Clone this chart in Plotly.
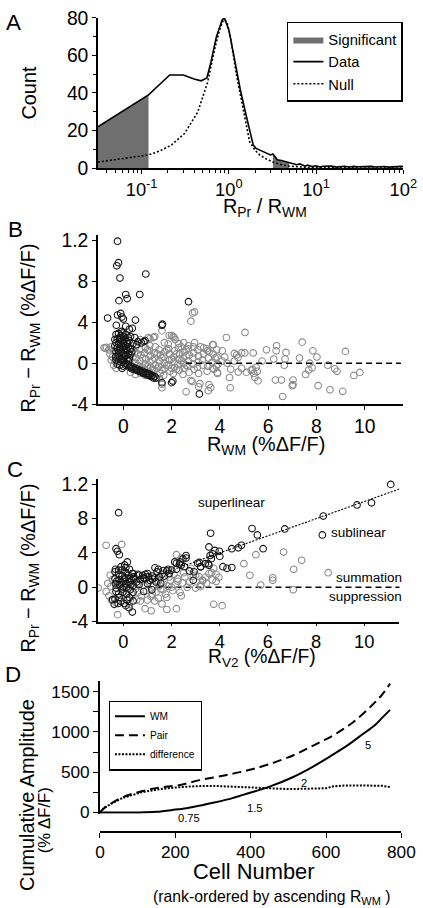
import plotly.graph_objects as go

W, H = 423, 908          # reference pixel frame used for all placement
FW, FH = 433, 918        # figure size (page is shown slightly reduced)
FS = 1.017               # font compensation for that reduction
FONT = "Liberation Sans, Arial, sans-serif"

# ---------------- Panel A: histogram of R_Pr / R_WM ----------------
a_data_x = [0.0316, 0.12, 0.21, 0.30, 0.40, 0.48, 0.56, 0.62, 0.72, 0.84, 0.89, 1.0, 1.13, 1.35, 1.58,
            1.73, 1.9, 2.05, 2.25, 2.5, 2.7, 3.0, 3.2, 3.4, 3.6, 4.0, 4.4, 4.9, 5.5, 6.0, 6.5, 7.0, 7.5,
            8.0, 9.0, 10, 11, 12, 13.5, 15, 17, 19, 21, 24, 27, 30, 34, 38, 43, 48, 54, 60, 68, 76, 85, 95, 100]
a_data_y = [22, 39, 49.6, 49.6, 47.5, 46.5, 48, 56, 70, 79, 80, 73.6, 61, 42, 28,
            21, 12.3, 10.5, 9.6, 8.5, 7.9, 7.0, 7.5, 6.0, 4.4, 4.0, 3.5, 3.2, 2.5, 1.8, 2.2, 1.5, 1.0,
            1.6, 0.8, 1.2, 0.6, 1.0, 0.9, 1.1, 0.5, 0.8, 1.0, 0.6, 0.9, 0.7, 0.8, 0.5, 0.9, 0.6, 0.7, 0.8, 0.5, 0.7, 0.6, 0.9, 0.8]
a_null_x = [0.0316, 0.06, 0.12, 0.16, 0.22, 0.31, 0.44, 0.57, 0.70, 0.80, 0.87, 0.95, 1.04, 1.23, 1.47,
            1.73, 2.0, 2.25, 2.7, 3.2, 4.0, 4.9, 7, 10, 20, 100]
a_null_y = [3.2, 5.0, 7.0, 9.0, 12.3, 18.4, 29.8, 45.6, 65, 75, 79, 78, 70, 49, 29.8,
            14, 9.5, 7, 4.8, 3.2, 1.8, 1.0, 0.5, 0.3, 0.1, 0]
a_sig_ranges = [(0.0316, 0.12), (3.2, 4.9)]
a_xtick_vals = [0.1, 1, 10, 100]
a_xtick_text = ["10<sup>-1</sup>", "10<sup>0</sup>", "10<sup>1</sup>", "10<sup>2</sup>"]

# ---------------- Panel B: R_Pr - R_WM vs R_WM ----------------
b_black = [
    (-0.24, 11.9), (-0.2, 9.8), (-0.27, 9.5), (-0.14, 8.3), (0.93, 8.7), (0.1, 6.7), (0.16, 6.3), (-0.18, 6.1),
    (0.68, 6.7), (2.7, 6.0), (-0.65, 4.4), (-0.24, 4.7), (-0.11, 4.85), (-0.06, 4.5), (0.0, 4.3), (0.5, 4.2),
    (1.6, 3.7), (1.62, 3.8), (-0.29, 3.7), (0.1, 3.6), (0.37, 3.4), (0.25, 3.3), (-0.07, 3.1), (0.47, 2.5),
    (0.6, 2.1), (0.75, 2.0), (0.85, 2.1), (0.9, 2.2), (0.55, 1.8), (0.4, 1.9),
    (-0.3, 2.8), (-0.2, 2.9), (-0.1, 2.7), (0.0, 2.6), (0.1, 2.8), (0.2, 2.5), (-0.25, 2.4), (-0.15, 2.3),
    (-0.05, 2.2), (0.05, 2.3), (0.15, 2.1), (0.25, 2.2), (-0.3, 2.0), (-0.2, 1.9), (-0.1, 1.8), (0.0, 1.9),
    (0.1, 1.7), (0.2, 1.6), (-0.25, 1.5), (-0.15, 1.4), (-0.05, 1.5), (0.05, 1.3), (0.15, 1.2), (0.3, 1.4),
    (-0.3, 1.1), (-0.2, 1.0), (-0.1, 1.1), (0.0, 0.9), (0.1, 0.8), (0.2, 0.9), (-0.25, 0.7), (-0.15, 0.6),
    (-0.05, 0.5), (0.05, 0.6), (0.15, 0.4), (0.25, 0.5), (-0.3, 0.3), (-0.2, 0.2), (-0.1, 0.1), (0.0, 0.2),
    (0.1, 0.0), (-0.25, -0.1), (-0.15, -0.2), (0.0, -0.3), (0.1, -0.2), (-0.05, -0.5),
    (-0.35, 1.7), (-0.32, 0.6), (-0.12, 2.5), (0.02, 1.6), (0.18, 1.9), (0.28, 0.8), (-0.22, 1.25),
    (-0.08, 0.35), (0.12, 1.45), (0.22, 0.2), (-0.35, 2.3), (0.3, 2.6), (0.35, 1.1), (-0.02, 2.95),
    (0.2, -0.2), (0.3, -0.3), (0.4, -0.4), (0.5, -0.5), (0.6, -0.6), (0.7, -0.7), (0.8, -0.8), (0.9, -0.9),
    (1.0, -1.0), (1.1, -1.1), (1.2, -1.2), (1.3, -1.3), (1.35, -1.45), (1.25, -1.45),
    (0.25, -0.4), (0.35, -0.55), (0.45, -0.6), (0.55, -0.7), (0.65, -0.8), (0.75, -0.9), (0.85, -1.0),
    (0.95, -1.1), (1.05, -1.2), (1.15, -1.3), (1.6, -1.9), (2.0, -1.9), (2.05, -1.75), (3.15, -3.0),
]
b_grey = [
    (-0.8, 1.5), (-0.75, 1.45), (-0.7, 1.55), (-0.6, 1.3), (-0.5, 1.6), (-0.45, 0.6), (-0.55, 0.9), (-0.4, 1.2),
    (-0.35, 0.2), (-0.4, -0.2), (-0.3, -0.5), (-0.5, 0.3),
    (0.28, 1.4), (0.33, 0.9), (0.27, 0.3), (0.32, -0.2), (0.3, -0.9),
    (0.52, 1.6), (0.47, 1.1), (0.53, 0.5), (0.48, 0.0), (0.52, -0.5), (0.5, -1.1),
    (0.68, 1.3), (0.73, 0.8), (0.7, 0.2), (0.67, -0.3), (0.72, -1.0), (0.7, 2.3),
    (0.92, 1.5), (0.88, 1.0), (0.93, 0.4), (0.9, -0.1), (0.87, -0.6), (0.92, -1.2),
    (1.08, 1.2), (1.12, 0.7), (1.1, 0.1), (1.13, -0.4), (1.08, -0.9), (1.1, 2.4),
    (1.32, 1.6), (1.28, 1.0), (1.3, 0.5), (1.33, -0.2), (1.27, -0.7), (1.3, 2.6),
    (1.48, 1.3), (1.53, 0.8), (1.5, 0.2), (1.47, -0.3), (1.52, -1.0), (1.5, -1.5),
    (1.72, 1.1), (1.68, 0.6), (1.7, 0.0), (1.73, -0.5), (1.7, 2.0), (1.67, -1.2),
    (1.88, 1.4), (1.92, 0.9), (1.9, 0.3), (1.87, -0.2), (1.93, -0.8), (1.9, 2.7),
    (2.12, 1.2), (2.08, 0.6), (2.1, 0.1), (2.13, -0.4), (2.07, -1.0), (2.1, 2.5),
    (2.28, 1.5), (2.33, 0.9), (2.3, 0.4), (2.27, -0.1), (2.32, -0.7), (2.3, 1.9),
    (2.52, 1.1), (2.48, 0.5), (2.5, 0.0), (2.53, -0.5), (2.47, -1.1), (2.5, 2.0),
    (2.68, 1.4), (2.73, 0.8), (2.7, 0.2), (2.67, -0.3), (2.72, -0.9), (2.7, 1.7),
    (2.92, 1.0), (2.88, 0.5), (2.9, -0.1), (2.93, -0.6), (2.9, 1.6),
    (3.08, 1.3), (3.12, 0.7), (3.1, 0.1), (3.07, -0.4), (3.12, -1.0),
    (3.32, 0.9), (3.28, 0.3), (3.3, -0.2), (3.33, 1.5),
    (3.48, 1.2), (3.52, 0.5), (3.5, -0.3), (3.47, -0.8),
    (3.72, 0.9), (3.68, 0.1), (3.7, -0.5), (3.73, 1.8),
    (3.88, 0.6), (3.92, -0.1), (3.9, -0.9), (3.87, 1.3),
    (0.4, 0.6), (0.6, -0.2), (0.8, 0.5), (1.0, -0.3), (1.2, 0.3), (1.4, -0.5), (1.6, 0.5), (1.8, -0.2),
    (2.0, 0.4), (2.2, -0.6), (2.4, 0.2), (2.6, -0.2), (0.6, 0.9), (1.0, 1.3), (1.4, 0.9), (1.8, 1.3),
    (2.2, 0.9), (2.6, 0.7), (0.8, -0.4), (1.2, -0.6), (1.6, -0.7), (2.0, -0.5),
    (2.87, 4.9), (2.95, 5.0), (2.8, 4.1), (1.6, 3.15), (4.27, 2.5), (5.04, 3.0), (7.41, 2.05), (2.06, 2.6),
    (2.15, 2.3), (9.2, 1.15), (6.35, 1.7), (6.33, 1.2), (6.74, 1.05), (6.7, 0.4), (6.67, -0.2), (5.93, 1.3),
    (6.23, 0.4), (5.75, 0.2), (5.38, 1.0), (5.03, 1.0), (7.85, 1.2), (8.02, 0.6), (7.3, 0.5), (7.72, 0.0),
    (8.47, -0.2), (7.82, -0.45), (7.68, -0.67), (7.55, -1.1), (8.76, -0.55), (8.85, -0.8), (9.55, -1.2),
    (9.8, -0.9), (6.3, -1.65), (6.55, -1.65), (7.03, -1.65), (7.03, -2.1), (7.0, -2.2), (8.07, -2.2),
    (8.56, -2.6), (9.09, -2.75), (6.6, -3.25), (5.58, -1.73), (5.45, -1.4), (5.4, -1.0), (5.35, -0.6),
    (5.55, -0.8), (5.5, -0.4), (4.43, -2.4), (3.55, -2.1), (3.62, -2.4), (3.52, -2.7), (3.17, -2.0),
    (3.12, -2.3), (2.85, -1.8), (2.6, -2.8), (1.6, -2.4), (1.6, -2.05), (2.8, -1.7), (4.4, -1.4),
    (4.45, -0.6), (4.76, -0.87), (5.1, -0.9), (5.3, -0.7), (4.1, 0.2), (4.3, 0.0), (4.6, 0.2), (3.8, 0.5),
    (3.85, -0.3), (3.75, -0.6), (4.6, 0.95), (4.7, 0.8), (4.9, 1.0), (3.7, 1.8), (3.45, 1.4), (3.55, 1.1),
    (3.2, 1.6), (4.1, 1.2), (4.75, 0.55), (1.04, 2.5), (1.25, 2.5), (1.86, 1.86), (2.0, 2.7), (1.1, 1.7),
    (2.4, 1.6), (2.6, 1.3), (2.95, 2.0), (3.9, -1.0), (4.9, -0.5), (4.2, 0.6),
]
b_zero_x = [2.6, 11.5]
b_zero_y = [0, 0]

# ---------------- Panel C: R_Pr - R_WM vs R_V2 ----------------
c_black = [
    (-0.2, 8.7), (-0.31, 4.5), (-0.17, 3.8), (-0.25, 4.2), (0.16, 2.95), (0.05, 2.6), (-0.1, 2.4), (0.1, 2.3),
    (2.6, 3.7), (2.13, 2.95), (2.33, 2.7), (2.53, 2.4), (2.74, 1.9), (3.08, 2.8), (3.21, 2.4), (2.6, 3.4),
    (2.47, 3.3), (2.4, 2.55), (2.93, 1.8), (2.9, 0.8), (2.2, 2.8), (2.35, 2.95), (3.4, 2.75), (3.55, 2.56),
    (1.31, 2.26), (1.45, 2.1), (1.65, 1.95), (1.85, 2.1), (0.37, 1.6), (0.64, 1.4), (0.91, 1.5), (1.04, 1.23),
    (0.43, 1.0), (0.83, 1.1), (1.2, 0.95), (0.84, -0.5), (1.18, -0.3),
    (-0.31, -0.5), (-0.45, -1.45), (-0.38, -2.0), (-0.11, -1.65), (0.03, -1.9), (0.1, -2.15), (0.23, -2.4),
    (0.37, -2.9),
    (-0.35, -1.4), (-0.2, -0.8), (-0.05, -0.2), (0.1, 0.4), (0.25, 1.0), (0.4, 1.6), (-0.33, 2.1),
    (-0.18, -1.2), (-0.03, -0.6), (0.12, 0.0), (0.27, 0.6), (0.42, 1.2), (-0.35, 1.8), (-0.2, 2.0),
    (-0.05, 1.3), (0.1, 1.7), (0.25, 2.1), (-0.33, 0.4), (-0.18, 0.9), (-0.02, 0.7), (0.13, -0.8),
    (0.28, -0.3), (0.4, 0.2), (-0.35, 1.0), (-0.2, 1.5), (-0.05, 2.0), (0.1, 1.1), (0.25, -1.2),
    (0.4, -0.6), (-0.3, -0.1), (-0.15, 0.3), (0.0, 0.0), (0.15, -1.5), (0.3, 0.3), (0.4, -1.6),
    (-0.22, -1.9), (-0.1, 0.6), (0.05, 1.0), (0.2, 1.4), (0.35, 0.8), (-0.28, 0.7),
    (0.55, 0.6), (0.7, 0.9), (0.9, 1.0), (1.1, 0.8), (1.3, 1.1), (1.5, 1.2), (0.6, 1.5), (0.8, 1.4),
    (1.0, 1.6), (1.2, 1.3), (1.4, 1.8), (1.6, 1.5), (1.8, 1.9), (2.0, 2.0), (2.2, 2.1), (1.7, 1.3),
    (1.9, 1.6), (0.65, 0.3), (1.0, 0.4), (1.35, 0.6), (1.55, 0.46),
    (11.1, 12.0), (10.3, 9.85), (9.7, 9.6), (8.3, 8.3), (8.26, 6.1), (6.7, 6.8), (5.34, 6.85), (5.56, 6.1),
    (3.62, 6.3), (5.8, 4.5), (4.9, 4.9), (4.77, 4.6), (4.5, 4.5), (3.98, 4.2), (3.8, 4.3), (3.55, 4.7),
    (3.7, 3.9), (3.6, 3.7), (4.0, 3.6), (4.13, 2.4), (4.3, 2.2), (4.5, 2.3), (3.52, 2.75), (3.15, 2.9),
    (3.65, 3.33), (3.2, 2.4),
]
c_grey = [
    (-0.72, 4.9), (-0.07, 5.0), (-0.24, -3.2), (0.9, -2.5), (1.15, -2.75), (1.6, -1.95), (1.8, -2.6),
    (2.2, -2.5), (3.75, -2.0), (4.1, -2.15), (5.5, 3.8), (6.65, 4.1), (7.4, 3.15), (7.07, 2.1), (8.5, 1.7),
    (6.2, 1.1), (6.2, 0.8), (5.25, 1.4), (5.7, 0.26), (7.05, -0.3), (5.0, 2.75),
    (3.96, 1.15), (3.4, 1.15), (3.3, 0.75), (3.45, 0.46), (3.2, 0.07), (3.85, 1.5), (3.75, 2.2), (3.66, 1.72),
    (3.55, 1.6), (3.28, 0.84), (3.21, 0.26), (3.69, 0.84), (3.85, 0.66), (3.0, 1.4), (3.14, 1.23), (3.0, -0.1),
    (-1.05, -0.1), (-0.72, -0.5), (-0.65, 0.46), (-0.52, 0.08), (-0.6, -1.0), (-0.5, -1.5), (-0.45, 0.9),
    (-0.55, 1.4),
    (-0.3, -1.8), (-0.15, -1.2), (0.0, -0.6), (0.15, 0.0), (0.3, 0.6), (0.45, 1.2), (-0.2, 0.3), (0.05, 0.9),
    (0.2, -1.4), (0.35, -0.8), (0.5, -0.2), (0.6, 0.4), (0.75, -1.0), (0.85, 0.2), (0.95, -0.4), (1.05, 0.6),
    (1.15, -1.1), (1.25, 0.1), (1.35, -0.6), (1.45, 0.7), (1.55, -0.2), (1.65, 0.4), (1.75, -0.8), (1.85, 0.1),
    (1.95, 0.8), (2.05, -0.4), (2.15, 0.3), (2.25, 1.0), (2.35, -0.6), (2.45, 0.5), (2.55, 1.2), (2.65, 0.0),
    (2.75, 0.6), (0.55, -1.5), (1.45, -1.27), (1.65, -0.3), (2.0, 0.0), (2.26, 0.7), (0.25, -2.0), (0.7, -1.6),
    (1.0, -1.5), (1.3, -1.6), (2.2, 3.8), (2.4, 3.4), (1.9, 1.2), (2.1, 1.5), (2.5, 1.7), (2.8, 2.2),
    (2.9, 1.3), (1.2, -0.8), (1.8, -1.2), (2.4, -1.0), (0.6, -0.6), (1.5, 0.2),
]
c_zero_x = [0.5, 11.5]
c_zero_y = [0, 0]
c_unity_x = [2.2, 11.5]
c_unity_y = [2.2, 11.5]

yticks_bc = [-4, 0, 4, 8, 12]
yticks_bc_text = ["-4", "0", "4", "8", "1.2"]

# ---------------- Panel D: cumulative amplitude ----------------
d_wm_n = [0, 100, 150, 200, 229, 250, 300, 350, 382, 450, 510, 561, 612, 654, 696, 731, 750, 770]
d_wm = [0, 0, 8, 35, 53, 70, 120, 175, 221, 320, 434, 557, 700, 823, 967, 1090, 1180, 1274]
d_pair_n = [0, 10, 25, 60, 110, 160, 205, 265, 330, 390, 450, 518, 570, 620, 672, 722, 750, 770]
d_pair = [0, 50, 98, 188, 262, 311, 335, 401, 460, 520, 600, 720, 840, 960, 1120, 1330, 1470, 1600]
d_diff_n = [0, 10, 25, 60, 110, 160, 200, 250, 300, 350, 400, 450, 500, 550, 600, 620, 650, 700, 750, 770]
d_diff = [0, 50, 95, 180, 250, 290, 310, 325, 330, 320, 315, 305, 290, 295, 300, 325, 335, 335, 330, 315]
d_rank_labels = ["0.75", "1.5", "2", "5"]


def unzip(pairs):
    return [p[0] for p in pairs], [p[1] for p in pairs]


def f(s):
    return s * FS


fig = go.Figure()

for i, (lo, hi) in enumerate(a_sig_ranges):
    sx = [x for x in a_data_x if lo <= x <= hi]
    sy = [y for x, y in zip(a_data_x, a_data_y) if lo <= x <= hi]
    fig.add_trace(go.Scatter(x=sx, y=sy, mode="lines", fill="tozeroy", fillcolor="#6f6f6f",
                             line=dict(width=0, color="#6f6f6f"), name="Significant",
                             showlegend=(i == 0), legendgroup="sig", xaxis="x", yaxis="y"))
fig.add_trace(go.Scatter(x=a_data_x, y=a_data_y, mode="lines", line=dict(color="black", width=1.6),
                         name="Data", legendgroup="data", xaxis="x", yaxis="y"))
fig.add_trace(go.Scatter(x=a_null_x, y=a_null_y, mode="lines",
                         line=dict(color="black", width=1.6, dash="2px,2px"),
                         name="Null", legendgroup="null", xaxis="x", yaxis="y"))

MK = dict(symbol="circle-open", size=6.6)
bgx, bgy = unzip(b_grey)
bbx, bby = unzip(b_black)
fig.add_trace(go.Scatter(x=bgx, y=bgy, mode="markers", marker=dict(color="#8a8a8a", line=dict(width=1.1), **MK),
                         showlegend=False, xaxis="x2", yaxis="y2"))
fig.add_trace(go.Scatter(x=bbx, y=bby, mode="markers", marker=dict(color="#151515", line=dict(width=1.1), **MK),
                         showlegend=False, xaxis="x2", yaxis="y2"))
fig.add_trace(go.Scatter(x=b_zero_x, y=b_zero_y, mode="lines", line=dict(color="black", width=1.5, dash="6px,4px"),
                         showlegend=False, xaxis="x2", yaxis="y2"))

cgx, cgy = unzip(c_grey)
cbx, cby = unzip(c_black)
fig.add_trace(go.Scatter(x=c_zero_x, y=c_zero_y, mode="lines", line=dict(color="black", width=1.5, dash="6px,4px"),
                         showlegend=False, xaxis="x3", yaxis="y3"))
fig.add_trace(go.Scatter(x=c_unity_x, y=c_unity_y, mode="lines", line=dict(color="black", width=1.1, dash="2px,1.5px"),
                         showlegend=False, xaxis="x3", yaxis="y3"))
fig.add_trace(go.Scatter(x=cgx, y=cgy, mode="markers", marker=dict(color="#8a8a8a", line=dict(width=1.1), **MK),
                         showlegend=False, xaxis="x3", yaxis="y3"))
fig.add_trace(go.Scatter(x=cbx, y=cby, mode="markers", marker=dict(color="#151515", line=dict(width=1.1), **MK),
                         showlegend=False, xaxis="x3", yaxis="y3"))

fig.add_trace(go.Scatter(x=d_wm_n, y=d_wm, mode="lines", line=dict(color="black", width=2, shape="spline"),
                         name="WM", legend="legend2", legendgroup="wm", xaxis="x4", yaxis="y4"))
fig.add_trace(go.Scatter(x=d_pair_n, y=d_pair, mode="lines",
                         line=dict(color="black", width=2, dash="9px,5px", shape="spline"),
                         name="Pair", legend="legend2", legendgroup="pair", xaxis="x4", yaxis="y4"))
fig.add_trace(go.Scatter(x=d_diff_n, y=d_diff, mode="lines",
                         line=dict(color="black", width=2, dash="2px,1.5px"),
                         name="difference", legend="legend2", legendgroup="diff", xaxis="x4", yaxis="y4"))


def dom_x(a, b):
    return [a / W, b / W]


def dom_y(top, bottom):
    return [1 - bottom / H, 1 - top / H]


TICKF = dict(family=FONT, size=f(19), color="black")
base_ax = dict(showline=True, linecolor="black", linewidth=1.5, ticks="outside", ticklen=4, tickwidth=1.3,
               tickcolor="black", showgrid=False, zeroline=False, tickfont=TICKF)

minor_log = [m * d for d in (0.01, 0.1, 1, 10) for m in range(2, 10)]

fig.update_layout(
    width=FW, height=FH, autosize=False, margin=dict(l=0, r=0, t=0, b=0),
    paper_bgcolor="white", plot_bgcolor="white", font=dict(family=FONT, color="black"),
    xaxis=dict(base_ax, type="log", range=[-1.5, 2], domain=dom_x(95, 407), anchor="y",
               tickvals=a_xtick_vals, ticktext=a_xtick_text, tickfont=dict(family=FONT, size=f(18), color="black"),
               minor=dict(tickvals=minor_log, ticks="outside", ticklen=3, tickcolor="black", showgrid=False)),
    yaxis=dict(base_ax, range=[0, 80], domain=dom_y(8, 160), anchor="x", tickvals=[0, 20, 40, 60, 80],
               minor=dict(dtick=10, ticks="outside", ticklen=3, tickcolor="black", showgrid=False)),
    xaxis2=dict(base_ax, range=[-1.05, 11.6], domain=dom_x(95, 407), anchor="y2", tickvals=[0, 2, 4, 6, 8, 10]),
    yaxis2=dict(base_ax, range=[-4, 12.48], domain=dom_y(228, 399), anchor="x2",
                tickvals=yticks_bc, ticktext=yticks_bc_text),
    xaxis3=dict(base_ax, range=[-1.057, 11.46], domain=dom_x(95, 403), anchor="y3", tickvals=[0, 2, 4, 6, 8, 10],
                tickfont=dict(family=FONT, size=f(18), color="black"), ticklen=3),
    yaxis3=dict(base_ax, range=[-4, 12.6], domain=dom_y(475, 619), anchor="x3",
                tickvals=yticks_bc, ticktext=yticks_bc_text),
    xaxis4=dict(base_ax, range=[0, 800], domain=dom_x(97, 405), anchor="free", position=1 - 832 / H,
                tickvals=[0, 200, 400, 600, 800], tickfont=dict(family=FONT, size=f(17), color="black"),
                ticklen=5),
    yaxis4=dict(base_ax, range=[-15, 1635], domain=dom_y(679, 813.5), anchor="x4",
                tickvals=[0, 500, 1000, 1500], tickfont=dict(family=FONT, size=f(17), color="black"),
                ticklen=5,
                minor=dict(dtick=250, ticks="outside", ticklen=5, tickcolor="black", showgrid=False)),
    legend=dict(x=288 / W, y=1 - 12 / H, xanchor="left", yanchor="top", bgcolor="white",
                bordercolor="black", borderwidth=1.5, font=dict(family=FONT, size=f(14.5), color="black"),
                tracegroupgap=0, itemwidth=30, traceorder="normal"),
    legend2=dict(x=106 / W, y=1 - 699 / H, xanchor="left", yanchor="top", bgcolor="white",
                 bordercolor="black", borderwidth=1.2, font=dict(family=FONT, size=f(10), color="black"),
                 tracegroupgap=4, itemwidth=30, traceorder="normal"),
    showlegend=True,
)


def ann(text, x, y, size, angle=0, xanchor="center", yanchor="middle"):
    fig.add_annotation(xref="paper", yref="paper", x=x / W, y=1 - y / H, text=text, showarrow=False,
                       textangle=angle, xanchor=xanchor, yanchor=yanchor,
                       font=dict(family=FONT, size=f(size), color="black"))


ann("A", 9, 13, 22)
ann("B", 11, 222, 22)
ann("C", 10, 465, 22)
ann("D", 8, 673, 22)

ann("Count", 24, 84, 19.5, angle=-90)
ann("R<sub>Pr</sub> / R<sub>WM</sub>", 266, 200, 19.5)
ann("R<sub>Pr</sub> − R<sub>WM</sub> (%ΔF/F)", 25, 322, 19.5, angle=-90)
ann("R<sub>WM</sub> (%ΔF/F)", 267, 441, 19.5)
ann("R<sub>Pr</sub> − R<sub>WM</sub> (%ΔF/F)", 25, 565, 19.5, angle=-90)
ann("R<sub>V2</sub> (%ΔF/F)", 263, 656, 19)
ann("Cumulative Amplitude", 23, 795, 19.5, angle=-90)
ann("(% ΔF/F)", 40, 820, 16.5, angle=-90)
ann("Cell Number", 254, 872, 21.5)
ann("(rank-ordered by ascending R<sub>WM</sub> )", 273, 898, 15.5)

ann("superlinear", 231, 499, 13.3)
ann("sublinear", 361, 529, 13.3)
ann("summation", 372, 574, 13.3)
ann("suppression", 368, 594, 13.3)

for txt, (lx, ly) in zip(d_rank_labels, [(188, 818), (255, 808), (306, 782), (371, 744)]):
    ann(txt, lx, ly, 11)

fig.write_html("out.html", config={"displayModeBar": False},
               post_script="document.body.style.margin='0';document.body.style.overflow='hidden';")
